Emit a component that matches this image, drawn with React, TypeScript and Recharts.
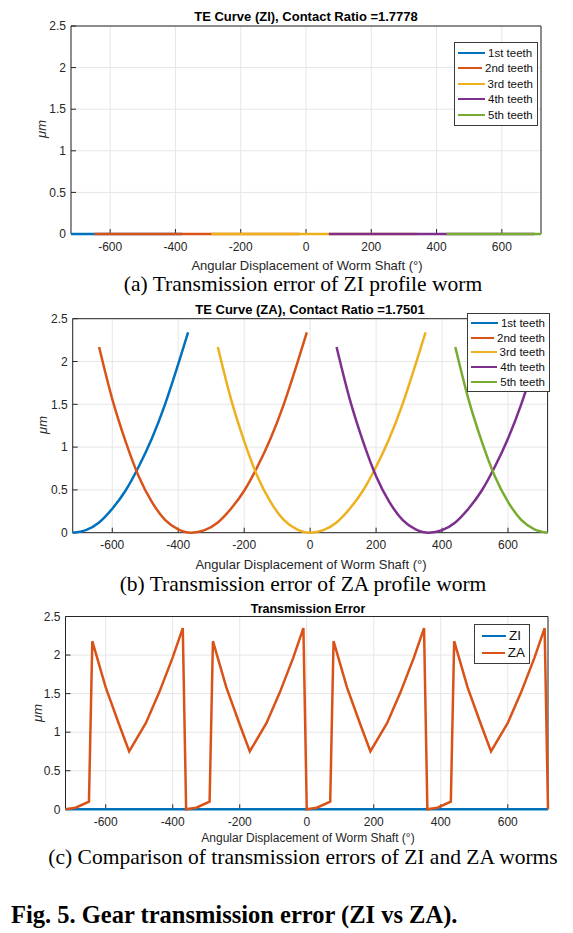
import React from "react";
import { LineChart, Line, XAxis, YAxis, CartesianGrid, Legend } from "recharts";

const BLUE = "#0072BD";
const ORANGE = "#D95319";
const YELLOW = "#EDB120";
const PURPLE = "#7E2F8E";
const GREEN = "#77AC30";
const INK = "#262626";

const degTicks = [-600, -400, -200, 0, 200, 400, 600];
const umTicks = [0, 0.5, 1, 1.5, 2, 2.5];
const toothNames = ["1st teeth", "2nd teeth", "3rd teeth", "4th teeth", "5th teeth"];
const toothColors = [BLUE, ORANGE, YELLOW, PURPLE, GREEN];

// (a) ZI profile: every tooth stays at zero
const zi1Deg = [-720, -380];
const zi1Um = [0, 0];
const zi2Deg = [-648, -20];
const zi2Um = [0, 0];
const zi3Deg = [-290, 340];
const zi3Um = [0, 0];
const zi4Deg = [70, 700];
const zi4Um = [0, 0];
const zi5Deg = [431, 720];
const zi5Um = [0, 0];

// (b) ZA profile
const za1Deg = [-720, -680, -640, -600, -560, -520, -480, -440, -400, -370];
const za1Um = [0, 0.03, 0.12, 0.28, 0.49, 0.77, 1.1, 1.5, 1.97, 2.34];
const za2Deg = [-640, -600, -560, -520, -480, -440, -400, -360, -320, -280, -240, -200, -160, -120, -80, -40, -10];
const za2Um = [2.17, 1.56, 1.07, 0.66, 0.36, 0.15, 0.04, 0, 0.03, 0.12, 0.28, 0.49, 0.77, 1.1, 1.5, 1.97, 2.34];
const za3Deg = [-280, -240, -200, -160, -120, -80, -40, 0, 40, 80, 120, 160, 200, 240, 280, 320, 350];
const za3Um = [2.17, 1.56, 1.07, 0.66, 0.36, 0.15, 0.04, 0, 0.03, 0.12, 0.28, 0.49, 0.77, 1.1, 1.5, 1.97, 2.34];
const za4Deg = [80, 120, 160, 200, 240, 280, 320, 360, 400, 440, 480, 520, 560, 600, 640, 680, 710];
const za4Um = [2.17, 1.56, 1.07, 0.66, 0.36, 0.15, 0.04, 0, 0.03, 0.12, 0.28, 0.49, 0.77, 1.1, 1.5, 1.97, 2.34];
const za5Deg = [440, 480, 520, 560, 600, 640, 680, 720];
const za5Um = [2.17, 1.56, 1.07, 0.66, 0.36, 0.15, 0.04, 0];

// (c) combined transmission error
const ziTotalDeg = [-720, 720];
const ziTotalUm = [0, 0];
const zaTotalDeg = [
  -720, -690, -650, -640, -600, -560, -530, -480, -440, -400, -370,
  -360, -330, -290, -280, -240, -200, -170, -120, -80, -40, -10,
  0, 30, 70, 80, 120, 160, 190, 240, 280, 320, 350,
  360, 390, 430, 440, 480, 520, 550, 600, 640, 680, 710, 720,
];
const zaTotalUm = [
  0, 0.02, 0.1, 2.18, 1.58, 1.1, 0.75, 1.12, 1.52, 1.97, 2.35,
  0, 0.02, 0.1, 2.18, 1.58, 1.1, 0.75, 1.12, 1.52, 1.97, 2.35,
  0, 0.02, 0.1, 2.18, 1.58, 1.1, 0.75, 1.12, 1.52, 1.97, 2.35,
  0, 0.02, 0.1, 2.18, 1.58, 1.1, 0.75, 1.12, 1.52, 1.97, 2.35, 0,
];

const pts = (deg: number[], um: number[]) => deg.map((x, i) => ({ x, y: um[i] }));

const ziTeeth = [pts(zi1Deg, zi1Um), pts(zi2Deg, zi2Um), pts(zi3Deg, zi3Um), pts(zi4Deg, zi4Um), pts(zi5Deg, zi5Um)];
const zaTeeth = [pts(za1Deg, za1Um), pts(za2Deg, za2Um), pts(za3Deg, za3Um), pts(za4Deg, za4Um), pts(za5Deg, za5Um)];

type Series = { name: string; color: string; data: { x: number; y: number }[] };
type Margin = { top: number; right: number; bottom: number; left: number };

const sans = "Liberation Sans, Arial, sans-serif";
const serif = "Liberation Serif, Times New Roman, serif";
const tickFont = { fill: INK, fontSize: 12, fontFamily: sans };

// legend drawn from our own series list so the order stays as plotted
function boxLegend(series: Series[], fontSize: number, rowH: number, lineW: number, padL: number) {
  return () => (
    <div
      style={{
        border: "1px solid #3a3a3a",
        background: "#fff",
        padding: "2px 4px 2px " + padL + "px",
        fontFamily: sans,
        fontSize,
        color: "#111",
        boxSizing: "border-box",
      }}
    >
      {series.map((s) => (
        <div key={s.name} style={{ display: "flex", alignItems: "center", height: rowH, whiteSpace: "nowrap" }}>
          <span style={{ display: "inline-block", width: lineW, borderTop: `2.5px solid ${s.color}`, marginRight: 3 }} />
          <span>{s.name}</span>
        </div>
      ))}
    </div>
  );
}

function Panel(props: {
  top: number;
  height: number;
  margin: Margin;
  series: Series[];
  curve: "monotone" | "linear";
  legend: { left: number; top: number; width: number; font: number; rowH: number; lineW: number; padL: number };
}) {
  const { top, height, margin, series, curve, legend } = props;
  return (
    <div style={{ position: "absolute", left: 0, top, width: 573, height }}>
      <LineChart width={573} height={height} margin={margin}>
        <CartesianGrid stroke="#e6e6e6" strokeWidth={1} />
        <XAxis
          dataKey="x"
          type="number"
          domain={[-720, 720]}
          ticks={degTicks}
          height={20}
          tickSize={-5}
          tickMargin={13}
          stroke={INK}
          tick={tickFont}
        />
        <XAxis
          xAxisId="t"
          orientation="top"
          dataKey="x"
          type="number"
          domain={[-720, 720]}
          ticks={degTicks}
          height={1}
          tickSize={-5}
          tick={false}
          stroke={INK}
        />
        <YAxis
          type="number"
          domain={[0, 2.5]}
          ticks={umTicks}
          width={40}
          tickSize={-5}
          tickMargin={10}
          stroke={INK}
          tick={tickFont}
        />
        <YAxis
          yAxisId="r"
          orientation="right"
          type="number"
          domain={[0, 2.5]}
          ticks={umTicks}
          width={1}
          tickSize={-5}
          tick={false}
          stroke={INK}
        />
        {series.map((s) => (
          <Line
            key={s.name}
            data={s.data}
            dataKey="y"
            name={s.name}
            type={curve}
            stroke={s.color}
            strokeWidth={2.5}
            dot={false}
            activeDot={false}
            isAnimationActive={false}
            {...({ zIndex: 700 } as any)}
          />
        ))}
        <Legend
          layout="vertical"
          align="center"
          verticalAlign="middle"
          wrapperStyle={{ left: legend.left, top: legend.top, width: legend.width }}
          content={boxLegend(series, legend.font, legend.rowH, legend.lineW, legend.padL)}
        />
      </LineChart>
    </div>
  );
}

const txt = (x: number, y: number, s: React.CSSProperties): React.CSSProperties => ({
  position: "absolute",
  left: x,
  top: y,
  transform: "translate(-50%, -50%)",
  whiteSpace: "nowrap",
  lineHeight: 1,
  ...s,
});

const titleStyle: React.CSSProperties = { fontFamily: sans, fontWeight: 700, fontSize: 13, color: "#000" };
const xLabelStyle: React.CSSProperties = { fontFamily: sans, fontSize: 13, color: INK };
const yLabelStyle: React.CSSProperties = { fontFamily: sans, fontSize: 13, fontStyle: "italic", color: INK };
const capStyle: React.CSSProperties = { fontFamily: serif, fontSize: 21.5, color: "#000" };
const rot = "translate(-50%, -50%) rotate(-90deg)";

export default function App() {
  const aSeries = ziTeeth.map((d, i) => ({ name: toothNames[i], color: toothColors[i], data: d }));
  const bSeries = zaTeeth.map((d, i) => ({ name: toothNames[i], color: toothColors[i], data: d }));
  const cSeries = [
    { name: "ZI", color: BLUE, data: pts(ziTotalDeg, ziTotalUm) },
    { name: "ZA", color: ORANGE, data: pts(zaTotalDeg, zaTotalUm) },
  ];
  return (
    <div style={{ position: "absolute", left: 0, top: 0, width: 573, height: 933, background: "#fff", overflow: "hidden" }}>
      <Panel
        top={0}
        height={270}
        margin={{ top: 25, right: 31, bottom: 16, left: 31 }}
        series={aSeries}
        curve="linear"
        legend={{ left: 454, top: 42, width: 84, font: 11.5, rowH: 15.5, lineW: 27, padL: 3 }}
      />
      <Panel
        top={290}
        height={280}
        margin={{ top: 27.7, right: 24.4, bottom: 17.3, left: 32.7 }}
        series={bSeries}
        curve="monotone"
        legend={{ left: 467, top: 23, width: 83, font: 11.5, rowH: 14.6, lineW: 27, padL: 3 }}
      />
      <Panel
        top={590}
        height={250}
        margin={{ top: 25.5, right: 24, bottom: 10.7, left: 25.5 }}
        series={cSeries}
        curve="linear"
        legend={{ left: 474, top: 34, width: 56, font: 13.5, rowH: 17.2, lineW: 24, padL: 7 }}
      />

      <div style={txt(306, 16, titleStyle)}>TE Curve (ZI), Contact Ratio =1.7778</div>
      <div style={txt(41, 129, { ...yLabelStyle, transform: rot })}>μm</div>
      <div style={txt(307, 265, xLabelStyle)}>Angular Displacement of Worm Shaft (°)</div>
      <div style={txt(303, 285, capStyle)}>(a) Transmission error of ZI profile worm</div>

      <div style={txt(310, 309, titleStyle)}>TE Curve (ZA), Contact Ratio =1.7501</div>
      <div style={txt(41.5, 425, { ...yLabelStyle, transform: rot })}>μm</div>
      <div style={txt(311, 564, xLabelStyle)}>Angular Displacement of Worm Shaft (°)</div>
      <div style={txt(303, 585, capStyle)}>(b) Transmission error of ZA profile worm</div>

      <div style={txt(308, 609, { ...titleStyle, fontSize: 12.5 })}>Transmission Error</div>
      <div style={txt(37, 713, { ...yLabelStyle, transform: rot })}>μm</div>
      <div style={txt(308, 838, { ...xLabelStyle, fontSize: 12 })}>Angular Displacement of Worm Shaft (°)</div>
      <div style={txt(303, 858, capStyle)}>(c) Comparison of transmission errors of ZI and ZA worms</div>

      <div style={{ position: "absolute", left: 11, top: 915, transform: "translateY(-50%)", lineHeight: 1, fontFamily: serif, fontWeight: 700, fontSize: 24.5, whiteSpace: "nowrap" }}>
        Fig. 5. Gear transmission error (ZI vs ZA).
      </div>
    </div>
  );
}
